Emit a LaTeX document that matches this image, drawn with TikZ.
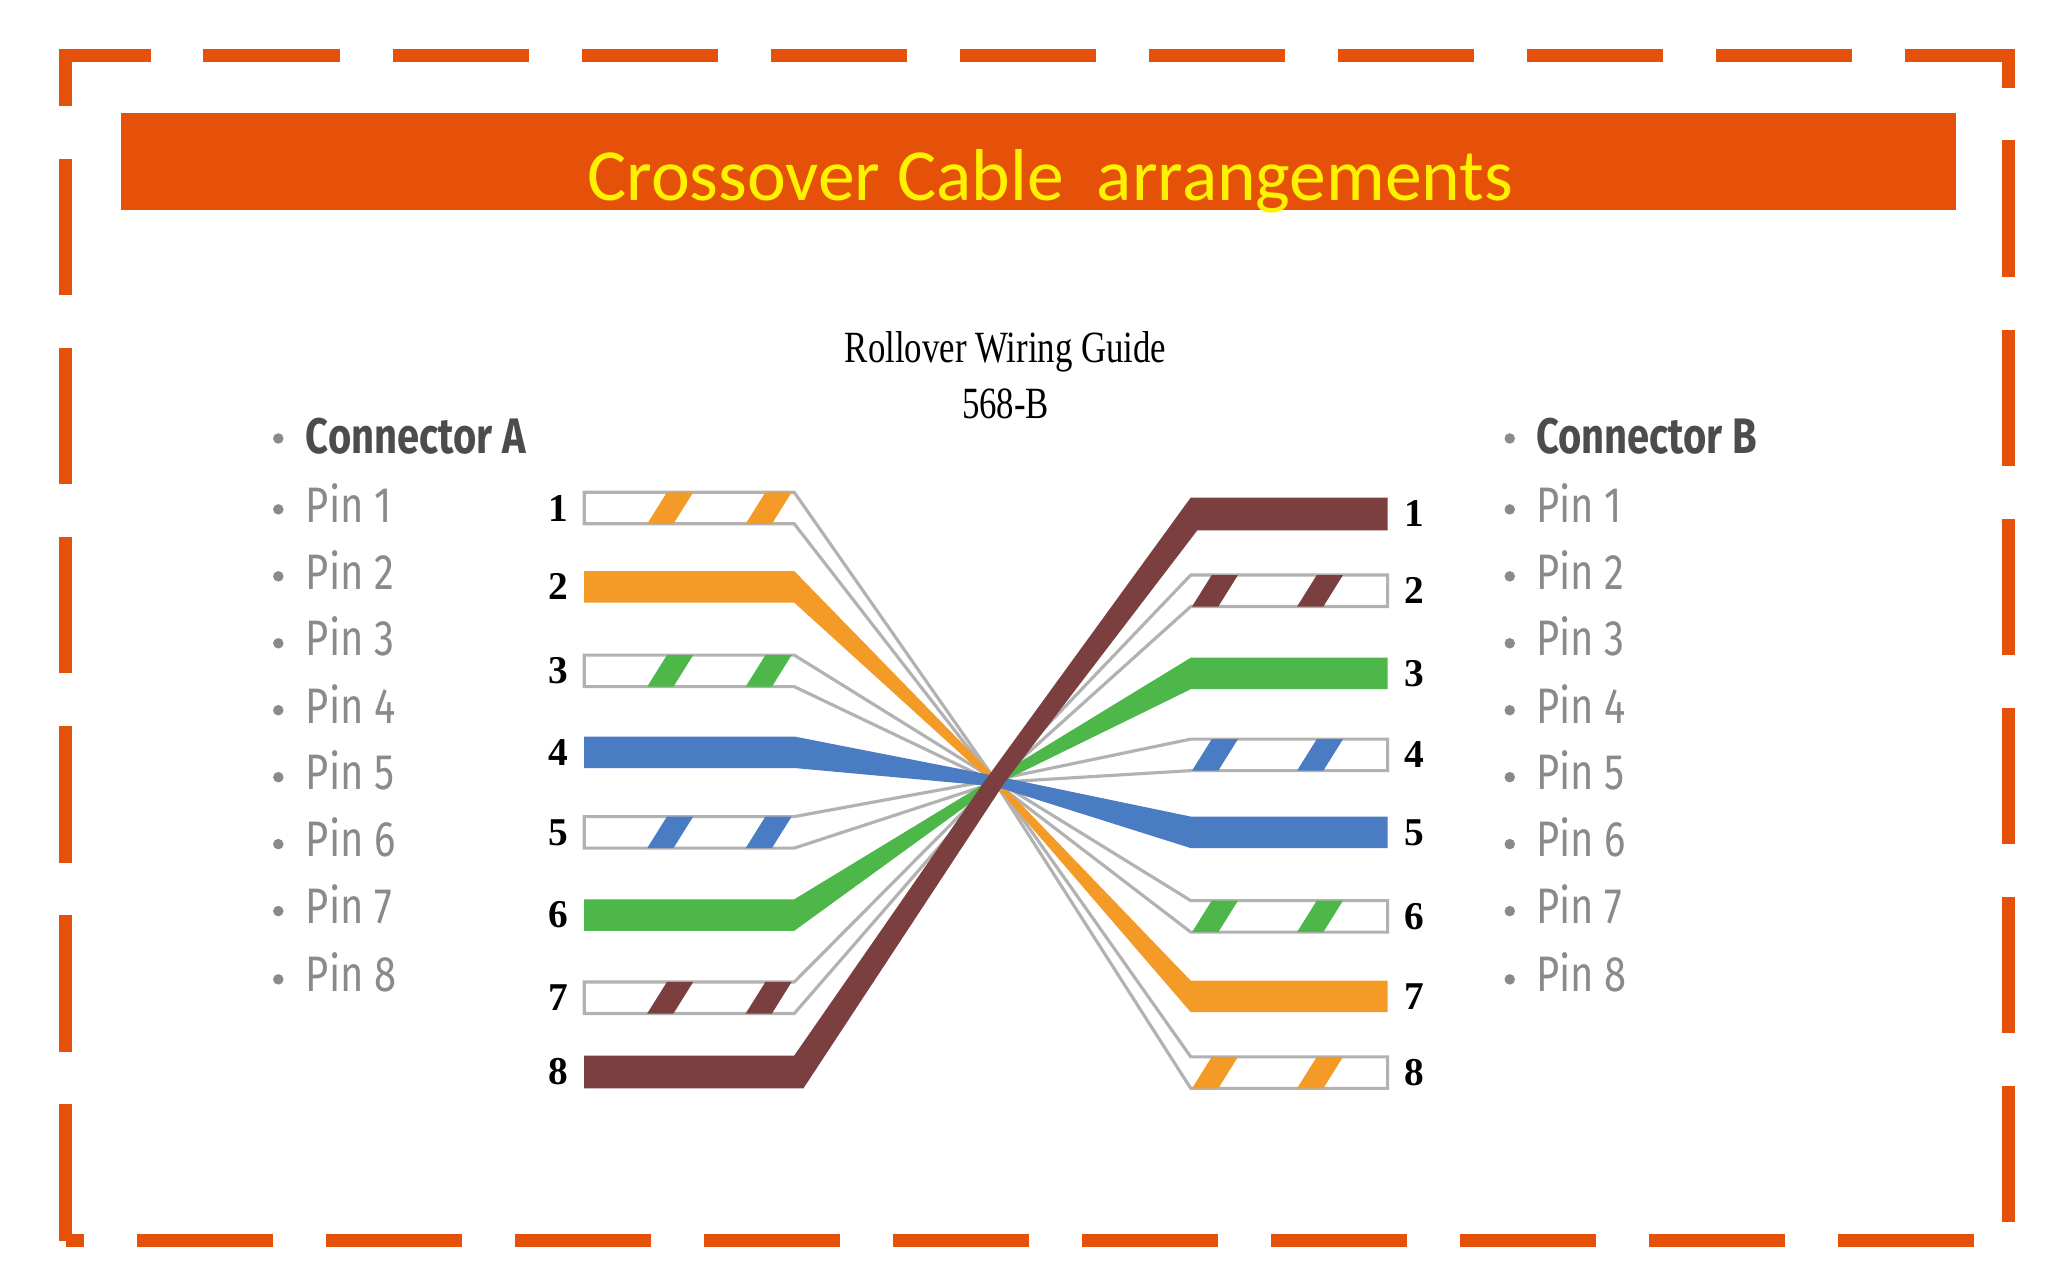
\documentclass[tikz,border=0pt]{standalone}
\usepackage{fontspec}
\setmainfont{Liberation Serif}
\newfontfamily\carl{Carlito}
\newfontfamily\fira{Fira Sans}
\definecolor{bord}{HTML}{E65109}
\definecolor{wor}{HTML}{F39A27}
\definecolor{wgr}{HTML}{4DB74A}
\definecolor{wbl}{HTML}{4A7CC4}
\definecolor{wbr}{HTML}{7B3F3F}
\definecolor{pintxt}{HTML}{8A8A8A}
\newcommand\cwire[4]{% yL yR fill halfcenter
  \fill[#3] (445,#1-12)--(605,#1-12)--(758,595-#4)--(907,#2-12)--(1057,#2-12)--(1057,#2+12)--(907,#2+12)--(758,595+#4)--(605,#1+12)--(445,#1+12)--cycle;}
\newcommand\swire[3]{% yL yR stripe
  \filldraw[fill=white,draw=gray!60,line width=1.2] (445,#1-12)--(605,#1-12)--(758,594)--(907,#2-12)--(1057,#2-12)--(1057,#2+12)--(907,#2+12)--(758,596)--(605,#1+12)--(445,#1+12)--cycle;
  \foreach \sx in {493,568}{\fill[#3] (\sx,#1+12)--(\sx+20,#1+12)--(\sx+35,#1-12)--(\sx+15,#1-12)--cycle;}
  \foreach \sx in {908,988}{\fill[#3] (\sx,#2+12)--(\sx+20,#2+12)--(\sx+35,#2-12)--(\sx+15,#2-12)--cycle;}}
\begin{document}
\begin{tikzpicture}[x=0.5pt,y=-0.5pt,
  pin/.style={anchor=west,text=pintxt,font=\fira\fontsize{19}{21}\selectfont},
  bul/.style={circle,fill=pintxt,inner sep=0,minimum size=4pt},
  num/.style={font=\bfseries\fontsize{15}{17}\selectfont}]
\useasboundingbox (0,0) rectangle (1560,975);
\fill[white] (0,0) rectangle (1560,975);
\draw[bord,line width=5pt,dash pattern=on 52pt off 20pt] (50,945)--(50,42)--(1530,42)--(1530,945)--cycle;
\fill[bord] (92,86) rectangle (1490,160);
\node[text=yellow,font=\carl\fontsize{28}{30}\selectfont] (title) at (800,138) {Crossover Cable\ \ arrangements};
\node[font=\fontsize{17}{19}\selectfont] (g1) at (766,268) {\scalebox{0.78}[1]{Rollover Wiring Guide}};
\node[font=\fontsize{17}{19}\selectfont] (g2) at (766,308) {\scalebox{0.78}[1]{568-B}};
% lists
\node[bul] (ba0) at (212,334) {};
\node[pin,text=black!70,font=\fira\bfseries\fontsize{19}{21}\selectfont] (la0) at (226,332) {\scalebox{0.8}[1]{Connector A}};
\node[bul] (bb0) at (1150,334) {};
\node[pin,text=black!70,font=\fira\bfseries\fontsize{19}{21}\selectfont] (lb0) at (1163,332) {\scalebox{0.8}[1]{Connector B}};
\foreach \i/\y in {1/383,2/434,3/485,4/536,5/587,6/638,7/689,8/741}{
  \node[bul] (ba\i) at (212,\y+5) {};
  \node[pin] (la\i) at (226,\y) {\scalebox{0.8}[1]{Pin \i}};
  \node[bul] (bb\i) at (1150,\y+5) {};
  \node[pin] (lb\i) at (1163,\y) {\scalebox{0.8}[1]{Pin \i}};
}
% wires (left yL, right yR)
\swire{387}{817}{wor}
\swire{511}{698}{wgr}
\swire{634}{575}{wbl}
\swire{760}{450}{wbr}
\cwire{447}{759}{wor}{3}
\cwire{697}{513}{wgr}{3}
\cwire{573}{634}{wbl}{4}
\fill[wbr] (445,804)--(605,804)--(750,595)--(907,379)--(1057,379)--(1057,404)--(912,404)--(766,595)--(612,829)--(445,829)--cycle;
\foreach \i/\y in {1/387,2/447,3/511,4/573,5/634,6/697,7/760,8/816}
  \node[num] (na\i) at (425,\y) {\i};
\foreach \i/\y in {1/391,2/450,3/513,4/575,5/634,6/698,7/759,8/817}
  \node[num] (nb\i) at (1077,\y) {\i};
\end{tikzpicture}
\end{document}
